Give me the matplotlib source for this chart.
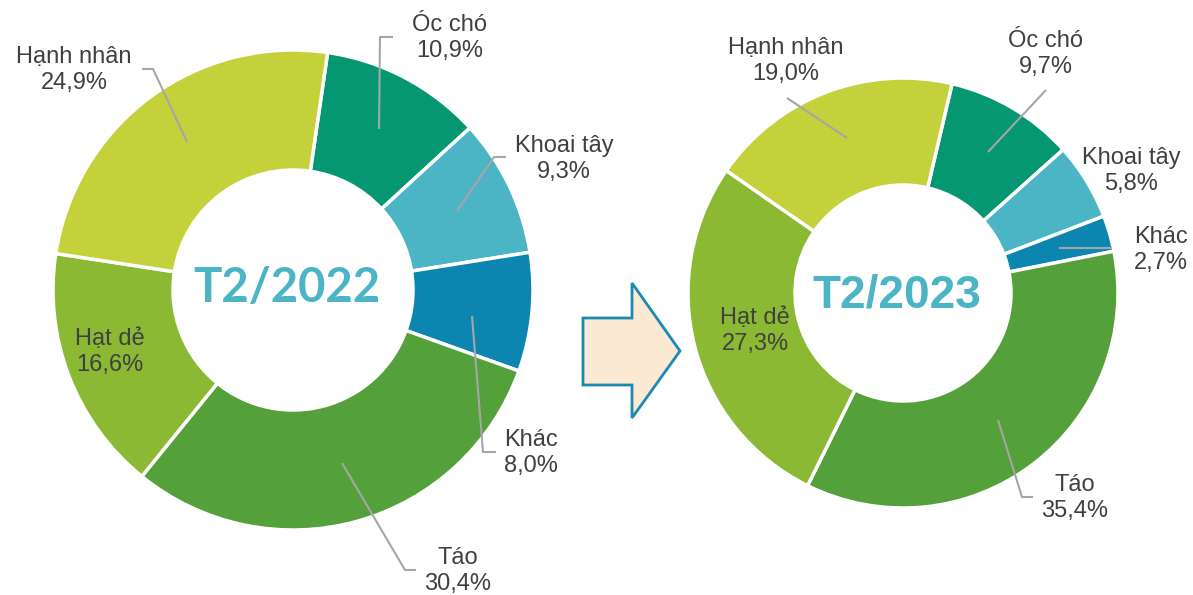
import matplotlib.pyplot as plt
from matplotlib.patches import Polygon

# datos
categorias = ['Óc chó', 'Khoai tây', 'Khác', 'Táo', 'Hạt dẻ', 'Hạnh nhân']
valores_2022 = [10.9, 9.3, 8.0, 30.4, 16.6, 24.9]
valores_2023 = [9.7, 5.8, 2.7, 35.4, 27.3, 19.0]
titulos = ['T2/2022', 'T2/2023']
colores = ['#059771', '#4BB5C5', '#0C86B1', '#54A03B', '#8BB934', '#C4D13B']

H = 595  # alto en pixeles, para pasar y de arriba hacia abajo


def Y(y):
    return H - y


fig = plt.figure(figsize=(11.93, 5.95), dpi=100)
ax = fig.add_axes([0, 0, 1, 1])

gris = '#A6A6A6'
texto = '#404040'


def etiqueta(x, y, nombre, valor):
    ax.text(x, Y(y), nombre + '\n' + f'{valor:.1f}%'.replace('.', ','),
            ha='center', va='center', fontsize=17, color=texto,
            family='Liberation Sans', linespacing=1.28)


def linea(puntos):
    xs = [p[0] for p in puntos]
    ys = [Y(p[1]) for p in puntos]
    ax.plot(xs, ys, color=gris, lw=1.5, solid_capstyle='butt')


# dona izquierda
ax.pie(valores_2022, colors=colores, startangle=81.7, counterclock=False,
       radius=240, center=(293, Y(290)),
       wedgeprops=dict(width=120, edgecolor='white', linewidth=2.5))
ax.text(287, Y(288), titulos[0], ha='center', va='center', fontsize=34,
        fontweight='bold', color='#4BB5C6', family='Lato')

pos_2022 = [(450, 38), (564, 159), (531, 453), (458, 571), (110, 352), (74, 70)]
for (x, y), c, v in zip(pos_2022, categorias, valores_2022):
    etiqueta(x, y, c, v)
linea([(379, 129), (380, 37), (393, 37)])
linea([(457, 211), (494, 157), (506, 157)])
linea([(472, 316), (483, 452), (496, 452)])
linea([(342, 463), (405, 570), (416, 570)])
linea([(187, 142), (153, 69), (142, 69)])

# flecha
flecha = Polygon([(583, Y(318)), (632, Y(318)), (632, Y(283)), (680, Y(351)),
                  (632, Y(418)), (632, Y(385)), (583, Y(385))],
                 closed=True, facecolor='#FBE9D3', edgecolor='#1A8AB0', lw=2)
ax.add_patch(flecha)

# dona derecha
ax.pie(valores_2023, colors=colores, startangle=76.8, counterclock=False,
       radius=215, center=(903, Y(293)),
       wedgeprops=dict(width=107, edgecolor='white', linewidth=2.5))
ax.text(897, Y(295), titulos[1], ha='center', va='center', fontsize=33,
        fontweight='bold', color='#4BB5C6', family='Liberation Sans')

pos_2023 = [(1046, 54), (1131, 171), (1161, 250), (1075, 498), (755, 331), (786, 61)]
for (x, y), c, v in zip(pos_2023, categorias, valores_2023):
    etiqueta(x, y, c, v)
linea([(988, 152), (1046, 90)])
linea([(1059, 248), (1112, 248)])
linea([(998, 420), (1022, 497), (1033, 497)])
linea([(847, 138), (787, 98)])

ax.set_xlim(0, 1193)
ax.set_ylim(0, H)
ax.set_aspect('equal')
ax.axis('off')

plt.savefig('out.png', dpi=100)
